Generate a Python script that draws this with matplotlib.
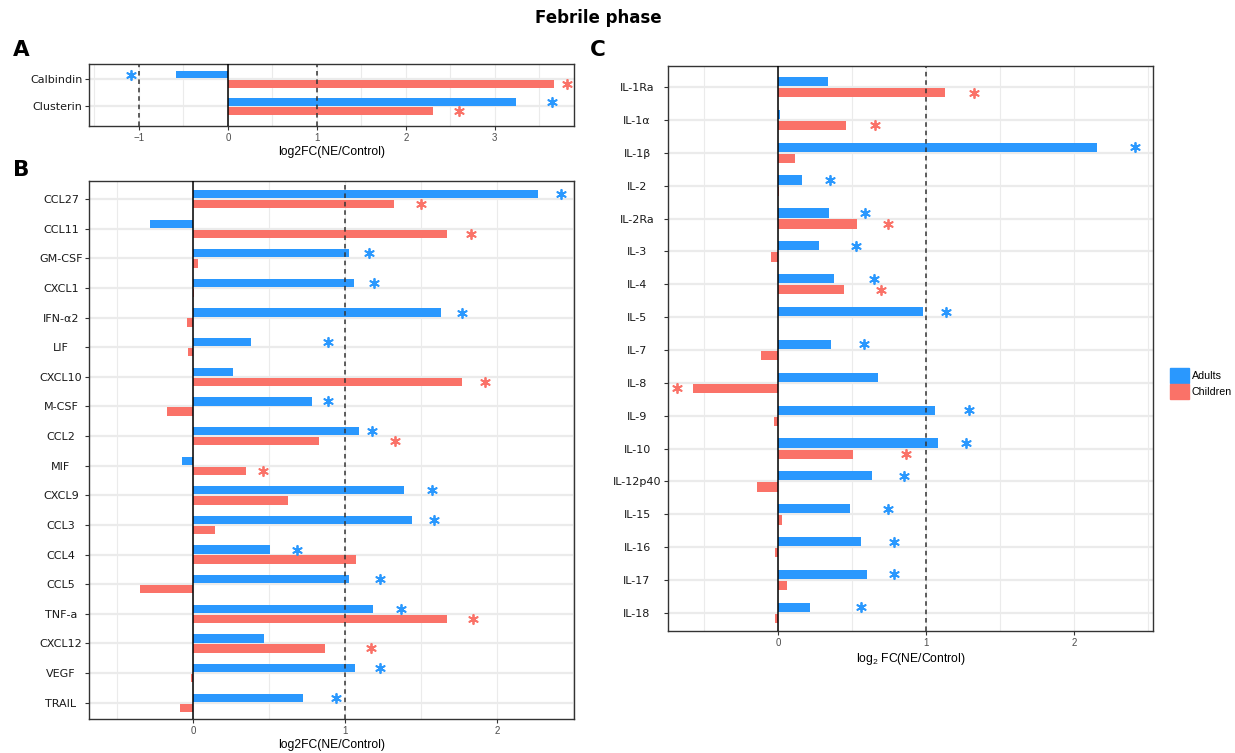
import numpy as np
import matplotlib
matplotlib.use("Agg")
import matplotlib.pyplot as plt
from matplotlib.patches import Patch

plt.rcParams['font.family'] = ['Liberation Sans', 'DejaVu Sans']
plt.rcParams['mathtext.fontset'] = 'custom'
plt.rcParams['mathtext.rm'] = 'Liberation Sans'
plt.rcParams['mathtext.default'] = 'regular'

# ---- data (log2 fold change, NE vs control) ----
# panel A
a_labels = ['Calbindin', 'Clusterin']
a_adults = [-0.58, 3.24]
a_children = [3.67, 2.31]
a_star_adults = [-1.09, 3.64]
a_star_children = [3.81, 2.60]

# panel B
b_labels = ['CCL27', 'CCL11', 'GM-CSF', 'CXCL1', 'IFN-α2', 'LIF', 'CXCL10', 'M-CSF',
            'CCL2', 'MIF', 'CXCL9', 'CCL3', 'CCL4', 'CCL5', 'TNF-a', 'CXCL12', 'VEGF', 'TRAIL']
b_adults = [2.27, -0.28, 1.025, 1.06, 1.63, 0.385, 0.264, 0.78,
            1.095, -0.073, 1.39, 1.44, 0.51, 1.025, 1.186, 0.467, 1.065, 0.726]
b_children = [1.32, 1.67, 0.033, 0.01, -0.04, -0.035, 1.77, -0.17,
              0.83, 0.35, 0.626, 0.143, 1.07, -0.35, 1.67, 0.87, -0.013, -0.083]
nan = np.nan
b_star_adults = [2.42, nan, 1.16, 1.19, 1.77, 0.89, nan, 0.89,
                 1.18, nan, 1.57, 1.585, 0.686, 1.23, 1.37, nan, 1.23, 0.94]
b_star_children = [1.50, 1.83, nan, nan, nan, nan, 1.92, nan,
                   1.33, 0.46, nan, nan, nan, nan, 1.84, 1.17, nan, nan]

# panel C
c_labels = ['IL-1Ra', 'IL-1α', 'IL-1β', 'IL-2', 'IL-2Ra', 'IL-3', 'IL-4', 'IL-5', 'IL-7',
            'IL-8', 'IL-9', 'IL-10', 'IL-12p40', 'IL-15', 'IL-16', 'IL-17', 'IL-18']
c_adults = [0.337, 0.016, 2.156, 0.162, 0.348, 0.277, 0.38, 0.978, 0.359,
            0.674, 1.063, 1.08, 0.638, 0.49, 0.564, 0.603, 0.219]
c_children = [1.126, 0.46, 0.115, 0.01, 0.534, -0.044, 0.444, 0.0, -0.112,
              -0.573, -0.025, 0.507, -0.142, 0.03, -0.022, 0.063, -0.022]
c_star_adults = [nan, nan, 2.41, 0.35, 0.586, 0.53, 0.647, 1.137, 0.58,
                 nan, 1.29, 1.27, 0.855, 0.745, 0.786, 0.784, 0.559]
c_star_children = [1.326, 0.655, nan, nan, 0.745, nan, 0.696, nan, nan,
                   -0.68, nan, 0.863, nan, nan, nan, nan, nan]

BLUE = '#2A98FE'
RED = '#FA7268'
W, H = 1235, 753

fig = plt.figure(figsize=(W / 100, H / 100), dpi=100)


def px_axes(l, t, r, b):
    return fig.add_axes([l / W, 1 - b / H, (r - l) / W, (b - t) / H])


def draw_panel(ax, labels, adults, children, star_a, star_c, xlim, ylim, xticks, dashed, label_pad):
    n = len(labels)
    y = np.arange(n)[::-1]
    off, h = 0.17, 0.28
    ax.barh(y + off, adults, height=h, color=BLUE, zorder=2)
    ax.barh(y - off, children, height=h, color=RED, zorder=2)
    ax.scatter(star_a, y + off, marker=(6, 2, 0), s=45, color=BLUE, linewidths=1.3, zorder=4)
    ax.scatter(star_c, y - off, marker=(6, 2, 0), s=45, color=RED, linewidths=1.3, zorder=4)
    ax.axvline(0, color='black', lw=1.1, zorder=3)
    for d in dashed:
        ax.axvline(d, color='#333333', lw=1.1, ls=(0, (3, 2.5)), zorder=3)
    ax.set_yticks(y)
    ax.set_yticklabels(labels, fontsize=8, family='DejaVu Sans', color='#1A1A1A', ha='center')
    ax.set_xticks(xticks)
    ax.set_xticks(np.arange(-2, 4.5, 0.5), minor=True)
    # limits after ticks so the minor ticks don't widen the range
    ax.set_xlim(xlim)
    ax.set_ylim(ylim)
    ax.tick_params(axis='x', which='major', labelsize=7, labelcolor='#4D4D4D',
                   color='#333333', length=3, width=0.8, pad=2)
    ax.tick_params(axis='x', which='minor', length=0)
    ax.tick_params(axis='y', color='#333333', length=3, width=0.8, pad=label_pad)
    ax.grid(True, axis='x', which='both', color='#EBEBEB', lw=0.8)
    ax.grid(True, axis='y', which='major', color='#EBEBEB', lw=1.6)
    ax.set_axisbelow(True)
    for s in ax.spines.values():
        s.set_color('#333333')
        s.set_linewidth(1.0)


axA = px_axes(89, 64, 574, 126)
draw_panel(axA, a_labels, a_adults, a_children, a_star_adults, a_star_children,
           (-1.56, 3.89), (-0.72, 1.56), [-1, 0, 1, 2, 3], [-1, 1], 20)
axA.set_xlabel('log2FC(NE/Control)', fontsize=8.7, labelpad=2)

axB = px_axes(89, 181, 574, 719)
draw_panel(axB, b_labels, b_adults, b_children, b_star_adults, b_star_children,
           (-0.684, 2.507), (-0.55, 17.61), [0, 1, 2], [1], 17.2)
axB.set_xlabel('log2FC(NE/Control)', fontsize=8.7, labelpad=2)

axC = px_axes(668, 66, 1153, 631)
draw_panel(axC, c_labels, c_adults, c_children, c_star_adults, c_star_children,
           (-0.743, 2.535), (-0.55, 16.64), [0, 1, 2], [1], 19.3)
axC.set_xlabel(r'log$_2$ FC(NE/Control)', fontsize=8.7, labelpad=2)

fig.text(598 / W, 1 - 18 / H, 'Febrile phase', ha='center', va='center',
         fontsize=12, fontweight='bold', family='DejaVu Sans')
for letter, x, yy in [('A', 21, 50), ('B', 21, 170), ('C', 598, 50)]:
    fig.text(x / W, 1 - yy / H, letter, ha='center', va='center',
             fontsize=15.5, fontweight='bold', family='DejaVu Sans')

handles = [Patch(color=BLUE), Patch(color=RED)]
fig.legend(handles, ['Adults', 'Children'], loc='upper left',
           bbox_to_anchor=(1170 / W, 1 - 368 / H), frameon=False, fontsize=7.7,
           handlelength=1.75, handleheight=1.85, labelspacing=0.05,
           handletextpad=0.3, borderpad=0, borderaxespad=0)

fig.savefig('out.png', dpi=100)
